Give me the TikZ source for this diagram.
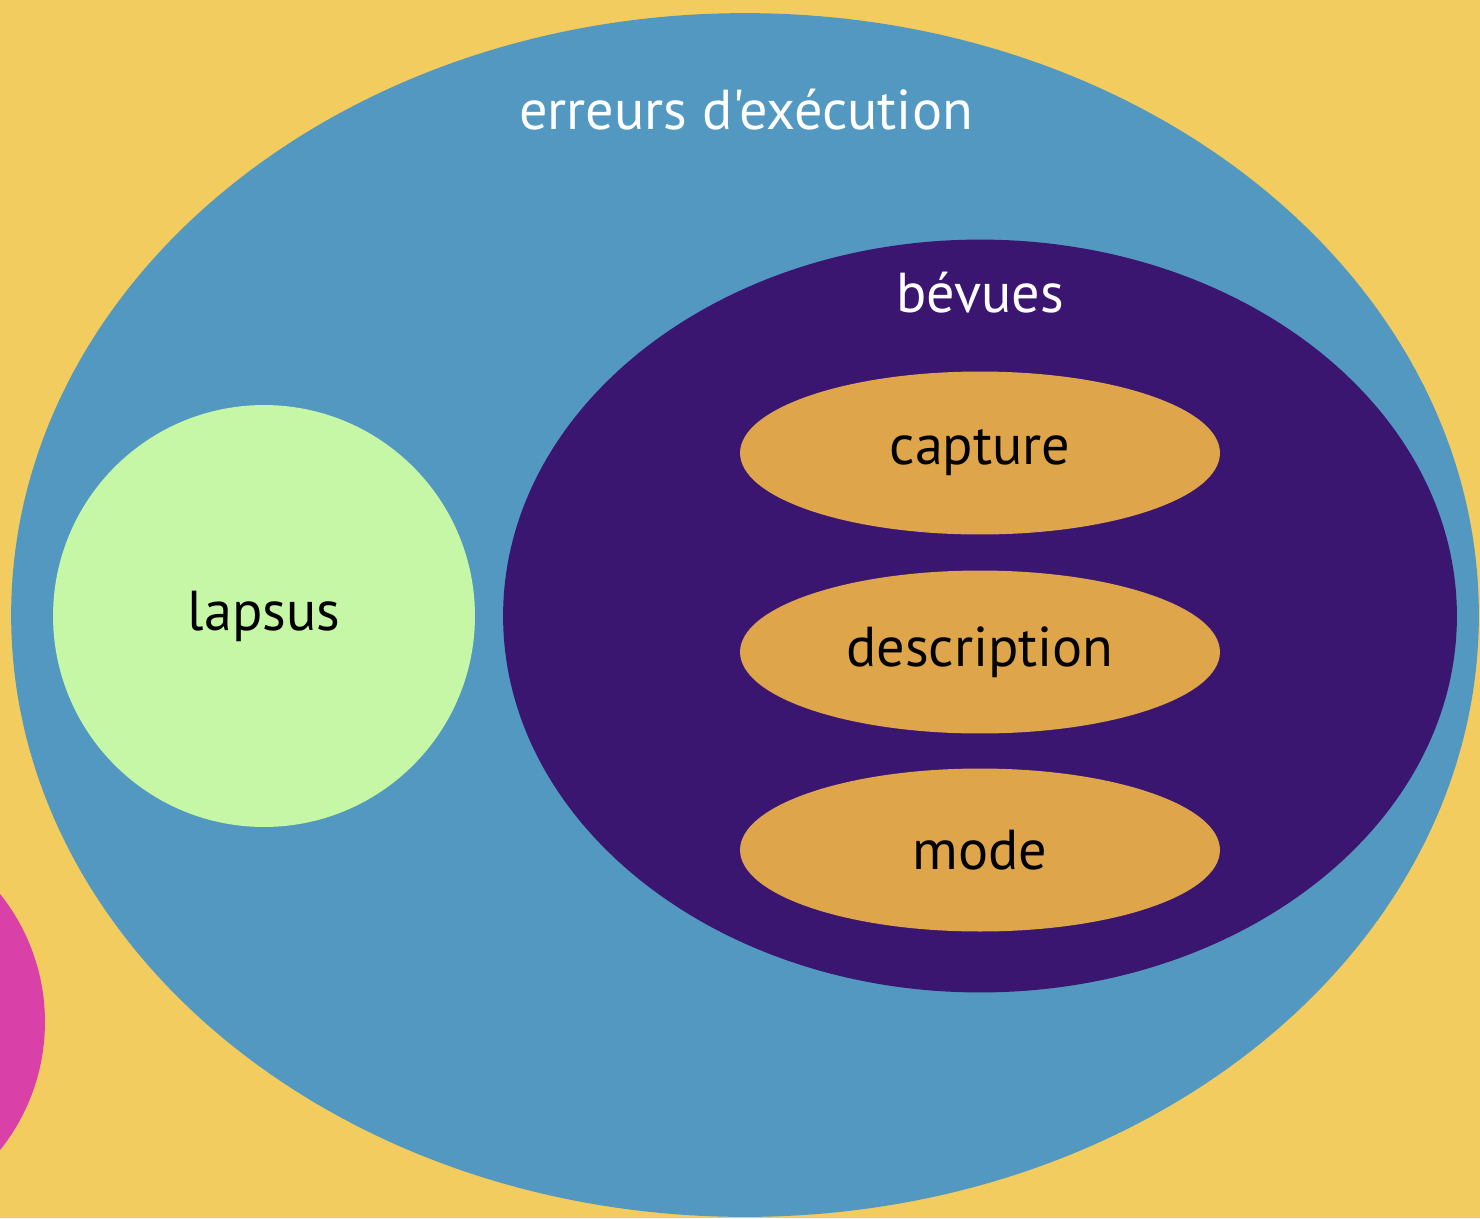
\documentclass[tikz,border=0pt]{standalone}
\usepackage{fontspec}
\setmainfont{PT Sans}[Ligatures=TeXOff]
\usepackage{tikz}
\usetikzlibrary{shapes.geometric,positioning}
\definecolor{fond}{RGB}{242,204,94}
\definecolor{bleu}{RGB}{82,152,192}
\definecolor{violet}{RGB}{58,22,112}
\definecolor{vert}{RGB}{198,247,166}
\definecolor{orange}{RGB}{222,165,75}
\definecolor{rose}{RGB}{217,64,168}

\begin{document}
\begin{tikzpicture}[x=0.02cm, y=-0.02cm]
\useasboundingbox (0,0) rectangle (1480,1218);
\clip (0,0) rectangle (1480,1218);
\fill[fond] (0,0) rectangle (1480,1218);
\tikzstyle{every node} = [ellipse, inner sep=0cm, font=\fontsize{32}{38}\selectfont]
\node[fill=rose, minimum width=8.2cm, minimum height=8.2cm] (autre) at (-160,1022) {};
\node[fill=bleu, minimum width=29.36cm, minimum height=24.08cm] (exec) at (745,615) {};
\node[fill=vert, circle, minimum size=8.44cm] (lapsus) at (264,616) {\raisebox{-0.1cm}{lapsus}};
\node[fill=violet, minimum width=19.08cm, minimum height=15.06cm] (bevues) at (980,616) {};
\tikzstyle{every node} = [ellipse, fill=orange, minimum width=9.6cm, minimum height=3.26cm, inner sep=0cm, font=\fontsize{32}{38}\selectfont]
\node (capture) at (980,453) {capture};
\node (description) at (980,652) {description};
\node (mode) at (980,850) {mode};
% titres
\tikzstyle{every node} = [text=white, font=\fontsize{32}{38}\selectfont]
\node at (746,110) {erreurs d'exécution};
\node at (980,293) {bévues};
\end{tikzpicture}
\end{document}
